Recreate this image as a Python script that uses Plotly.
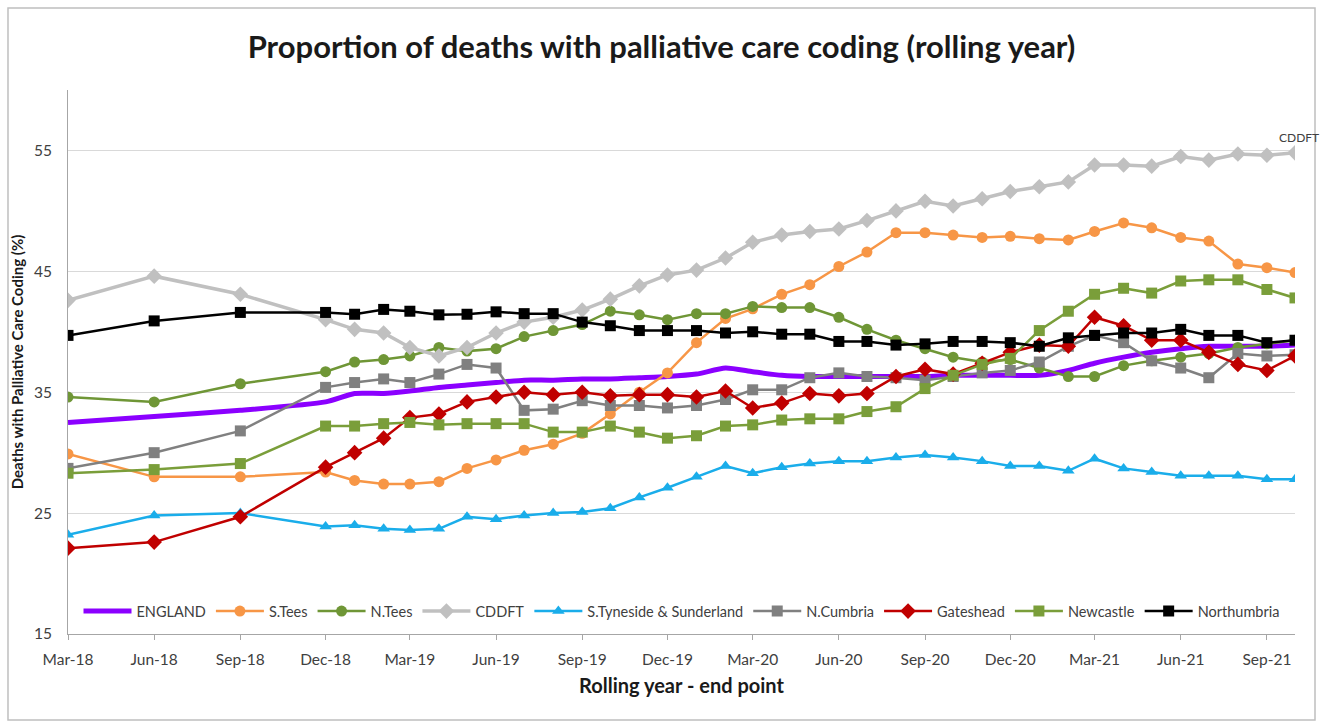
import plotly.graph_objects as go

# Rolling-year end points (first three quarterly, then monthly)
end_points = [
    "2018-03-01", "2018-06-01", "2018-09-01", "2018-12-01",
    "2019-01-01", "2019-02-01", "2019-03-01", "2019-04-01", "2019-05-01", "2019-06-01",
    "2019-07-01", "2019-08-01", "2019-09-01", "2019-10-01", "2019-11-01", "2019-12-01",
    "2020-01-01", "2020-02-01", "2020-03-01", "2020-04-01", "2020-05-01", "2020-06-01",
    "2020-07-01", "2020-08-01", "2020-09-01", "2020-10-01", "2020-11-01", "2020-12-01",
    "2021-01-01", "2021-02-01", "2021-03-01", "2021-04-01", "2021-05-01", "2021-06-01",
    "2021-07-01", "2021-08-01", "2021-09-01", "2021-10-01",
]

england = [32.5, 33.0, 33.5, 34.2, 34.9, 34.9, 35.1, 35.4, 35.6, 35.8, 36.0, 36.0, 36.1, 36.1,
           36.2, 36.3, 36.5, 37.0, 36.7, 36.4, 36.3, 36.3, 36.3, 36.3, 36.3, 36.4, 36.4, 36.4,
           36.4, 36.8, 37.4, 37.9, 38.3, 38.6, 38.8, 38.8, 38.8, 38.9]
s_tees = [29.9, 28.0, 28.0, 28.4, 27.7, 27.4, 27.4, 27.6, 28.7, 29.4, 30.2, 30.7, 31.6, 33.2,
          35.0, 36.6, 39.1, 41.1, 41.9, 43.1, 43.9, 45.4, 46.6, 48.2, 48.2, 48.0, 47.8, 47.9,
          47.7, 47.6, 48.3, 49.0, 48.6, 47.8, 47.5, 45.6, 45.3, 44.9]
n_tees = [34.6, 34.2, 35.7, 36.7, 37.5, 37.7, 38.0, 38.7, 38.4, 38.6, 39.6, 40.1, 40.6, 41.7,
          41.4, 41.0, 41.5, 41.5, 42.1, 42.0, 42.0, 41.2, 40.2, 39.3, 38.6, 37.9, 37.5, 37.7,
          37.0, 36.3, 36.3, 37.2, 37.6, 37.9, 38.2, 38.7, 39.0, 39.3]
cddft = [42.6, 44.6, 43.1, 41.0, 40.2, 39.9, 38.7, 38.0, 38.7, 39.9, 40.8, 41.2, 41.8, 42.7,
         43.8, 44.7, 45.1, 46.1, 47.4, 48.0, 48.3, 48.5, 49.2, 50.0, 50.8, 50.4, 51.0, 51.6,
         52.0, 52.4, 53.8, 53.8, 53.7, 54.5, 54.2, 54.7, 54.6, 54.8]
s_tyneside = [23.2, 24.8, 25.0, 23.9, 24.0, 23.7, 23.6, 23.7, 24.7, 24.5, 24.8, 25.0, 25.1, 25.4,
              26.3, 27.1, 28.0, 28.9, 28.3, 28.8, 29.1, 29.3, 29.3, 29.6, 29.8, 29.6, 29.3, 28.9,
              28.9, 28.5, 29.5, 28.7, 28.4, 28.1, 28.1, 28.1, 27.8, 27.8]
n_cumbria = [28.7, 30.0, 31.8, 35.4, 35.8, 36.1, 35.8, 36.5, 37.3, 37.0, 33.5, 33.6, 34.3, 33.9,
             33.9, 33.7, 33.9, 34.4, 35.2, 35.2, 36.2, 36.6, 36.3, 36.2, 36.0, 36.3, 36.6, 36.8,
             37.5, 38.8, 39.7, 39.1, 37.6, 37.0, 36.2, 38.2, 38.0, 38.1]
gateshead = [22.1, 22.6, 24.7, 28.8, 30.0, 31.2, 32.9, 33.2, 34.2, 34.6, 35.0, 34.8, 35.0, 34.7,
             34.8, 34.8, 34.6, 35.1, 33.7, 34.1, 34.9, 34.7, 34.9, 36.3, 36.9, 36.5, 37.4, 38.3,
             38.9, 38.8, 41.2, 40.5, 39.3, 39.3, 38.3, 37.3, 36.8, 38.0]
newcastle = [28.3, 28.6, 29.1, 32.2, 32.2, 32.4, 32.5, 32.3, 32.4, 32.4, 32.4, 31.7, 31.7, 32.2,
             31.7, 31.2, 31.4, 32.2, 32.3, 32.7, 32.8, 32.8, 33.4, 33.8, 35.3, 36.4, 37.3, 37.8,
             40.1, 41.7, 43.1, 43.6, 43.2, 44.2, 44.3, 44.3, 43.5, 42.8]
northumbria = [39.7, 40.9, 41.6, 41.6, 41.45, 41.85, 41.7, 41.4, 41.45, 41.65, 41.5, 41.5, 40.8, 40.5,
               40.1, 40.1, 40.1, 39.9, 40.0, 39.8, 39.8, 39.2, 39.2, 38.9, 39.0, 39.2, 39.2, 39.1,
               38.8, 39.5, 39.7, 39.9, 39.9, 40.2, 39.7, 39.7, 39.1, 39.3]

series_names = ["ENGLAND", "S.Tees", "N.Tees", "CDDFT", "S.Tyneside & Sunderland",
                "N.Cumbria", "Gateshead", "Newcastle", "Northumbria"]
series_values = [england, s_tees, n_tees, cddft, s_tyneside, n_cumbria, gateshead,
                 newcastle, northumbria]

y_ticks = [15, 25, 35, 45, 55]
x_tick_start = "2018-03-01"

styles = {
    "ENGLAND": dict(color="#8B00FF", symbol=None, width=5),
    "S.Tees": dict(color="#F79646", symbol="circle", width=2.5),
    "N.Tees": dict(color="#6F9636", symbol="circle", width=2.5),
    "CDDFT": dict(color="#C0C0C0", symbol="diamond", width=3.5),
    "S.Tyneside & Sunderland": dict(color="#1AADEA", symbol="triangle-up", width=2.5),
    "N.Cumbria": dict(color="#808080", symbol="square", width=2.5),
    "Gateshead": dict(color="#C00000", symbol="diamond", width=2.5),
    "Newcastle": dict(color="#7A9E3A", symbol="square", width=2.5),
    "Northumbria": dict(color="#000000", symbol="square", width=2.5),
}

FONT = "Lato, 'Open Sans', sans-serif"

fig = go.Figure()
for name, vals in zip(series_names, series_values):
    st = styles[name]
    if st["symbol"] is None:
        fig.add_trace(go.Scatter(
            x=end_points, y=vals, name=name, mode="lines",
            line=dict(color=st["color"], width=st["width"], shape="spline", smoothing=0.6),
        ))
    else:
        fig.add_trace(go.Scatter(
            x=end_points, y=vals, name=name, mode="lines+markers",
            line=dict(color=st["color"], width=st["width"]),
            marker=dict(symbol=st["symbol"], size=11 if st["symbol"] != "diamond" else 12,
                        color=st["color"], line=dict(width=0)),
        ))

# end label for CDDFT, kept inside the figure
fig.add_annotation(
    x=1.0, xref="paper", y=cddft[-1], yref="y", text="CDDFT", showarrow=False,
    xanchor="right", yanchor="bottom", xshift=26, yshift=6,
    font=dict(family=FONT, size=12, color="#404040"),
)

# outer chart border
fig.add_shape(type="rect", xref="paper", yref="paper",
              x0=-0.0489, x1=1.0163, y0=-0.158, y1=1.1507,
              line=dict(color="#BFBFBF", width=1.5), fillcolor="rgba(0,0,0,0)", layer="below")

fig.update_layout(
    width=1323, height=727,
    margin=dict(l=68, r=28, t=90, b=93),
    paper_bgcolor="white", plot_bgcolor="white",
    font=dict(family=FONT, size=13, color="#404040"),
    title=dict(text="<b>Proportion of deaths with palliative care coding (rolling year)</b>",
               x=0.5, xanchor="center", y=1 - 47 / 727, yanchor="middle",
               font=dict(family=FONT, size=31, color="#1a1a1a")),
    showlegend=True,
    legend=dict(orientation="h", x=0.5, xanchor="center", y=0.042, yanchor="middle",
                bgcolor="rgba(0,0,0,0)", font=dict(family=FONT, size=14.5, color="#404040"),
                itemwidth=48, tracegroupgap=0),
    xaxis=dict(
        type="date", range=["2018-03-01", "2021-10-01"],
        tick0=x_tick_start, dtick="M3", tickformat="%b-%y",
        showgrid=False, showline=True, linecolor="#A6A6A6", linewidth=1,
        ticks="outside", ticklen=5, tickcolor="#A6A6A6",
        ticklabelstandoff=6,
        tickfont=dict(family=FONT, size=15.5, color="#404040"),
        title=dict(text="<b>Rolling year - end point</b>", standoff=12,
                   font=dict(family=FONT, size=20, color="#1a1a1a")),
        zeroline=False,
    ),
    yaxis=dict(
        range=[15, 60], tickvals=y_ticks,
        showgrid=True, gridcolor="#D9D9D9", gridwidth=1,
        showline=True, linecolor="#A6A6A6", linewidth=1,
        ticks="", ticklabelstandoff=12,
        tickfont=dict(family=FONT, size=15.5, color="#404040"),
        title=dict(text="<b>Deaths with Palliative Care Coding (%)</b>", standoff=6,
                   font=dict(family=FONT, size=15, color="#1a1a1a")),
        zeroline=False,
    ),
)

fig.write_html("out.html")
